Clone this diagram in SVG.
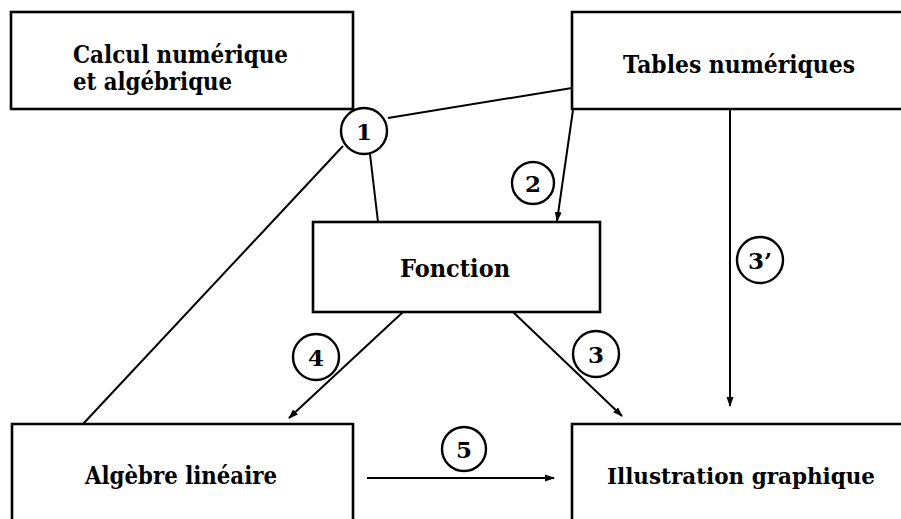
<svg xmlns="http://www.w3.org/2000/svg" width="901" height="519" viewBox="0 0 901 519">
<style>
.box{fill:#fff;stroke:#000;stroke-width:2.6}
.lbl{font-family:"DejaVu Serif","Liberation Serif",serif;font-weight:bold;font-size:25px;fill:#000}
.num{font-family:"DejaVu Serif","Liberation Serif",serif;font-weight:bold;font-size:23px;fill:#000;text-anchor:middle}
.circ{fill:#fff;stroke:#000;stroke-width:2.4}
.ln{fill:none;stroke:#000;stroke-width:2}
.arr{fill:none;stroke:#000;stroke-width:2;marker-end:url(#ah)}
</style>
<defs>
<marker id="ah" viewBox="0 0 10 8" refX="9" refY="4" markerWidth="10" markerHeight="8" markerUnits="userSpaceOnUse" orient="auto">
<path d="M0,0.5 L10,4 L0,7.5 Z" fill="#000"/>
</marker>
</defs>
<rect width="901" height="519" fill="#fff"/>
<g id="connectors">
<line class="ln" x1="388" y1="118" x2="572" y2="88"/>
<line class="ln" x1="370" y1="154" x2="378" y2="222"/>
<line class="ln" x1="343" y1="146" x2="83" y2="424"/>
<line class="arr" x1="573" y1="110" x2="557" y2="221"/>
<line class="arr" x1="730" y1="110" x2="730" y2="406"/>
<line class="arr" x1="403" y1="312" x2="289" y2="418"/>
<line class="arr" x1="513" y1="312" x2="622" y2="416"/>
<line class="arr" x1="367" y1="478" x2="554" y2="478"/>
</g>
<g id="node-calcul">
<rect class="box" x="11" y="12" width="342" height="97"/>
<text class="lbl" x="73" y="63" textLength="215" lengthAdjust="spacingAndGlyphs">Calcul numérique</text>
<text class="lbl" x="73" y="90" textLength="159" lengthAdjust="spacingAndGlyphs">et algébrique</text>
</g>
<g id="node-tables">
<path class="box" d="M901,12 H572 V109 H901"/>
<text class="lbl" x="623" y="73" textLength="232" lengthAdjust="spacingAndGlyphs">Tables numériques</text>
</g>
<g id="node-fonction">
<rect class="box" x="313" y="222" width="287" height="90"/>
<text class="lbl" x="400" y="277" textLength="110" lengthAdjust="spacingAndGlyphs">Fonction</text>
</g>
<g id="node-algebre">
<path class="box" d="M12,519 V424 H353 V519"/>
<text class="lbl" x="85" y="484" textLength="192" lengthAdjust="spacingAndGlyphs">Algèbre linéaire</text>
</g>
<g id="node-illustration">
<path class="box" d="M901,424 H572 V519"/>
<text class="lbl" x="607" y="484" style="font-size:23px" textLength="268" lengthAdjust="spacingAndGlyphs">Illustration graphique</text>
</g>
<g id="label-1"><circle class="circ" cx="364" cy="131" r="23"/><text class="num" x="364" y="140">1</text></g>
<g id="label-2"><circle class="circ" cx="533" cy="183" r="21"/><text class="num" x="533" y="192">2</text></g>
<g id="label-3p"><circle class="circ" cx="760" cy="260" r="23"/><text class="num" x="760" y="269">3’</text></g>
<g id="label-4"><circle class="circ" cx="316" cy="357" r="23"/><text class="num" x="316" y="366">4</text></g>
<g id="label-3"><circle class="circ" cx="596" cy="354" r="23"/><text class="num" x="596" y="363">3</text></g>
<g id="label-5"><circle class="circ" cx="464" cy="449" r="22"/><text class="num" x="464" y="458">5</text></g>
</svg>
